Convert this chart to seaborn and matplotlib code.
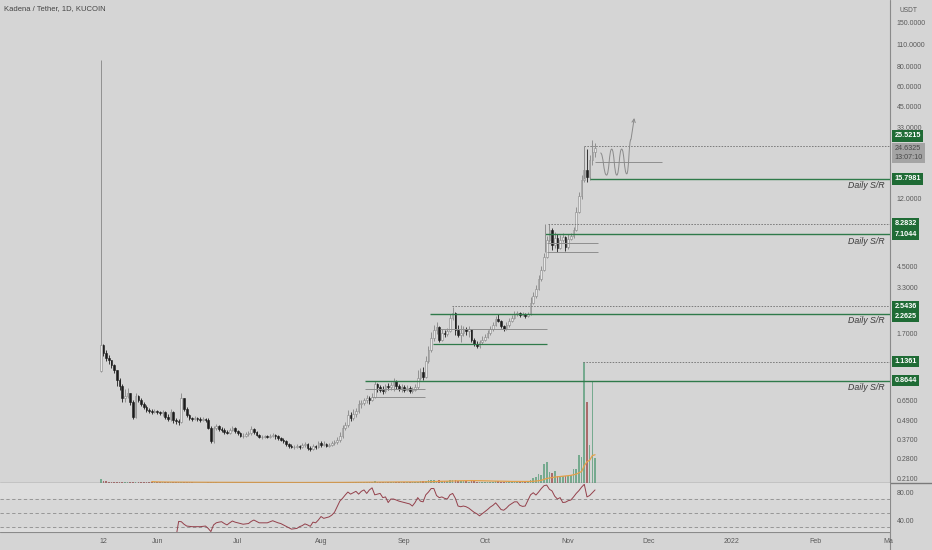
import numpy as np
import pandas as pd
import matplotlib
matplotlib.use("Agg")
import matplotlib.pyplot as plt
import seaborn as sns
from matplotlib.path import Path
from matplotlib.patches import PathPatch
from matplotlib.lines import Line2D
from matplotlib.ticker import FixedLocator, FixedFormatter, NullLocator, NullFormatter

# ---------------- data (daily candles, KDA/USDT, 11 May -> 11 Nov 2021) ----------------
first_open = 1.0
closes = [1.45, 1.29, 1.20, 1.17, 1.085, 1.01, 0.874, 0.802, 0.674, 0.694,
          0.725, 0.636, 0.513, 0.694, 0.655, 0.618, 0.592, 0.568, 0.56, 0.552,
          0.56, 0.552, 0.544, 0.552, 0.513, 0.499, 0.552, 0.491, 0.484, 0.477,
          0.674, 0.576, 0.528, 0.506, 0.499, 0.506, 0.499, 0.491, 0.499, 0.491,
          0.44, 0.363, 0.438, 0.45, 0.432, 0.426, 0.414, 0.408, 0.426, 0.438,
          0.42, 0.408, 0.39, 0.39, 0.402, 0.408, 0.432, 0.414, 0.396, 0.385,
          0.385, 0.39, 0.385, 0.39, 0.396, 0.39, 0.379, 0.368, 0.363, 0.348,
          0.338, 0.333, 0.333, 0.338, 0.333, 0.343, 0.348, 0.329, 0.324, 0.338,
          0.333, 0.353, 0.343, 0.348, 0.338, 0.343, 0.353, 0.358, 0.368, 0.39,
          0.438, 0.457, 0.528, 0.506, 0.536, 0.56, 0.618, 0.627, 0.655, 0.674,
          0.655, 0.684, 0.826, 0.791, 0.757, 0.746, 0.802, 0.791, 0.814, 0.862,
          0.802, 0.768, 0.791, 0.757, 0.779, 0.746, 0.757, 0.791, 0.90, 0.981,
          0.913, 1.14, 1.35, 1.60, 1.80, 1.87, 1.56, 1.72, 1.70, 1.77,
          2.14, 2.30, 1.80, 1.67, 1.72, 1.82, 1.77, 1.82, 1.56, 1.47,
          1.43, 1.50, 1.56, 1.63, 1.72, 1.82, 1.93, 2.10, 2.04, 1.90,
          1.82, 1.93, 2.04, 2.14, 2.26, 2.30, 2.23, 2.26, 2.20, 2.26,
          2.65, 2.93, 3.24, 3.74, 4.26, 5.15, 6.57, 7.58, 6.11, 6.76,
          5.85, 6.57, 6.85, 5.93, 6.66, 6.96, 7.58, 9.78, 12.3, 15.6,
          18.0, 16.2, 20.8, 23.3, 24.6325]
highs = [87.7, 1.47, 1.35, 1.25, 1.17, 1.10, 1.01, 0.90, 0.83, 0.768,
         0.78, 0.694, 0.655, 0.725, 0.704, 0.674, 0.636, 0.61, 0.584, 0.576,
         0.576, 0.568, 0.56, 0.568, 0.56, 0.536, 0.576, 0.56, 0.506, 0.499,
         0.725, 0.674, 0.592, 0.536, 0.513, 0.521, 0.513, 0.513, 0.513, 0.506,
         0.506, 0.45, 0.45, 0.464, 0.457, 0.444, 0.438, 0.426, 0.438, 0.45,
         0.444, 0.426, 0.414, 0.408, 0.414, 0.42, 0.45, 0.438, 0.42, 0.402,
         0.396, 0.396, 0.396, 0.402, 0.408, 0.402, 0.396, 0.385, 0.379, 0.368,
         0.353, 0.348, 0.343, 0.348, 0.343, 0.353, 0.358, 0.353, 0.338, 0.348,
         0.343, 0.363, 0.363, 0.363, 0.353, 0.353, 0.363, 0.368, 0.385, 0.414,
         0.457, 0.477, 0.568, 0.552, 0.576, 0.584, 0.655, 0.655, 0.674, 0.704,
         0.694, 0.725, 0.862, 0.838, 0.814, 0.802, 0.826, 0.838, 0.85, 0.90,
         0.874, 0.826, 0.826, 0.814, 0.814, 0.802, 0.791, 0.826, 1.01, 1.04,
         1.055, 1.23, 1.43, 1.75, 1.93, 2.01, 1.90, 1.82, 1.80, 1.85,
         2.26, 2.49, 2.33, 1.93, 1.93, 1.90, 1.87, 1.90, 1.75, 1.60,
         1.52, 1.56, 1.65, 1.70, 1.80, 1.90, 2.01, 2.20, 2.26, 2.07,
         1.93, 2.01, 2.14, 2.23, 2.37, 2.37, 2.33, 2.33, 2.30, 2.33,
         2.89, 3.11, 3.43, 3.97, 4.52, 5.45, 6.96, 8.27, 7.80, 7.37,
         7.15, 7.05, 7.26, 6.96, 7.15, 7.26, 7.93, 10.5, 13.1, 16.7,
         20.2, 24.4, 22.3, 27.7, 26.6]
lows = [0.981, 1.23, 1.14, 1.10, 1.04, 0.967, 0.802, 0.757, 0.636, 0.636,
        0.674, 0.61, 0.499, 0.506, 0.636, 0.601, 0.576, 0.552, 0.544, 0.536,
        0.544, 0.536, 0.528, 0.521, 0.499, 0.484, 0.484, 0.47, 0.464, 0.457,
        0.47, 0.56, 0.513, 0.491, 0.484, 0.491, 0.484, 0.477, 0.484, 0.477,
        0.432, 0.353, 0.353, 0.426, 0.42, 0.414, 0.402, 0.402, 0.402, 0.42,
        0.408, 0.396, 0.385, 0.379, 0.385, 0.39, 0.396, 0.402, 0.39, 0.379,
        0.374, 0.379, 0.379, 0.379, 0.385, 0.374, 0.368, 0.363, 0.353, 0.338,
        0.329, 0.329, 0.324, 0.329, 0.324, 0.329, 0.333, 0.319, 0.314, 0.319,
        0.324, 0.329, 0.333, 0.338, 0.333, 0.333, 0.338, 0.343, 0.348, 0.358,
        0.379, 0.426, 0.444, 0.484, 0.491, 0.513, 0.544, 0.584, 0.61, 0.627,
        0.618, 0.645, 0.674, 0.735, 0.735, 0.714, 0.725, 0.757, 0.757, 0.746,
        0.768, 0.746, 0.735, 0.735, 0.746, 0.725, 0.725, 0.746, 0.768, 0.874,
        0.874, 0.90, 1.12, 1.31, 1.52, 1.70, 1.50, 1.52, 1.63, 1.65,
        1.75, 2.07, 1.67, 1.63, 1.50, 1.65, 1.67, 1.63, 1.50, 1.43,
        1.39, 1.39, 1.47, 1.54, 1.60, 1.67, 1.77, 1.90, 2.01, 1.85,
        1.77, 1.80, 1.87, 2.01, 2.10, 2.20, 2.17, 2.20, 2.14, 2.17,
        2.23, 2.61, 2.85, 3.20, 3.64, 4.20, 5.08, 6.38, 5.68, 5.85,
        5.52, 5.76, 6.38, 5.60, 5.76, 6.57, 6.76, 7.47, 9.64, 11.9,
        15.2, 15.2, 15.6, 19.3, 21.7]
volumes = [0.45, 0.25, 0.2, 0.15, 0.15, 0.12, 0.12, 0.15, 0.1, 0.12,
           0.1, 0.1, 0.15, 0.12, 0.1, 0.08, 0.08, 0.08, 0.07, 0.07,
           0.07, 0.07, 0.07, 0.06, 0.08, 0.07, 0.08, 0.07, 0.06, 0.06,
           0.12, 0.08, 0.07, 0.06, 0.06, 0.05, 0.05, 0.05, 0.05, 0.05,
           0.07, 0.12, 0.1, 0.06, 0.05, 0.05, 0.05, 0.05, 0.05, 0.06,
           0.05, 0.05, 0.05, 0.05, 0.05, 0.05, 0.06, 0.05, 0.05, 0.05,
           0.04, 0.04, 0.04, 0.04, 0.05, 0.04, 0.05, 0.05, 0.05, 0.06,
           0.06, 0.05, 0.05, 0.05, 0.05, 0.05, 0.05, 0.06, 0.05, 0.06,
           0.05, 0.06, 0.05, 0.05, 0.05, 0.05, 0.06, 0.06, 0.07, 0.09,
           0.12, 0.1, 0.14, 0.1, 0.1, 0.09, 0.12, 0.1, 0.1, 0.1,
           0.09, 0.1, 0.18, 0.12, 0.1, 0.09, 0.1, 0.09, 0.1, 0.12,
           0.1, 0.09, 0.09, 0.08, 0.09, 0.08, 0.08, 0.09, 0.15, 0.2,
           0.18, 0.25, 0.3, 0.35, 0.32, 0.25, 0.3, 0.22, 0.18, 0.18,
           0.3, 0.35, 0.3, 0.22, 0.2, 0.18, 0.16, 0.15, 0.18, 0.18,
           0.15, 0.14, 0.14, 0.14, 0.13, 0.14, 0.15, 0.18, 0.16, 0.15,
           0.14, 0.14, 0.14, 0.15, 0.17, 0.15, 0.13, 0.13, 0.14, 0.13,
           0.3, 0.5, 0.6, 0.9, 0.8, 1.9, 2.1, 1.1, 1.0, 1.2,
           0.7, 0.7, 0.7, 0.7, 0.7, 0.8, 1.4, 1.4, 2.8, 2.6,
           12.1, 8.1, 3.8, 10.2, 2.5]
rsi_start = 28
rsi_values = [15, 38, 37.6, 34, 31.4, 31, 30.5, 30.5, 30.5, 30.5,
              31, 31.4, 28, 23.5, 33, 36, 37, 37.6, 35, 33,
              36, 38.6, 37, 36, 35, 34, 34.5, 35, 38, 40,
              38, 36, 36, 36, 36, 37.5, 39, 37.5, 36, 35,
              33, 31, 29, 27, 27.5, 28, 30.5, 32, 34.5, 33,
              31, 37, 36, 40, 45, 42.4, 43.5, 44.5, 47, 51,
              59, 67, 71, 75.7, 80, 77, 79, 81, 77, 81,
              83, 78, 83, 86, 76, 77, 78, 72, 73, 65,
              70, 70, 68.6, 67, 66, 65, 64, 63, 60, 65,
              72, 67, 66, 76, 80, 85, 85, 75, 72, 73,
              71, 70, 76, 78, 71, 60, 59, 60, 59, 57,
              54, 51, 49, 46, 49, 52, 55, 58.5, 61, 64.5,
              60, 55, 54, 57, 61, 63.5, 66, 66, 61, 59.5,
              60, 68, 76, 79, 75.7, 80, 85, 89, 90, 84,
              81.5, 74, 70, 72, 65, 65.5, 67.6, 68.6, 73, 78,
              82, 87, 91, 73, 75, 79, 83]

date_tick_days = [1, 21, 51, 82, 113, 143, 174, 204, 235, 266, 293.2]
date_tick_labels = ["12", "Jun", "Jul", "Aug", "Sep", "Oct", "Nov", "Dec", "2022", "Feb", "Ma"]
price_ticks = [150, 110, 80, 60, 45, 33, 12, 4.5, 3.3, 1.7, 0.65, 0.49, 0.37, 0.28, 0.21]
rsi_ticks = [80, 40]
rsi_levels = [70, 50, 30]

# drawn support / resistance levels
sr_levels = [15.7981, 7.1044, 2.2625, 0.8644]
sr_start_days = [182, 165.4, 122.6, 98.4]
ref_levels = [25.5215, 8.2832, 2.5436, 1.1361]
ref_start_days = [180, 166.5, 130.7, 179.5]
green_short_levels = [1.46]
green_short_start = [123.7]
green_short_end = [166.1]
gray_short_levels = [20.2, 6.29, 5.54, 1.82, 0.768, 0.68]
gray_short_start = [184, 166, 166, 126.3, 98.4, 101]
gray_short_end = [209, 185, 185, 166.1, 120.7, 120.7]
box_edge_days = [180, 165.4]
box_edge_low = [15.7981, 5.54]
box_edge_high = [25.5215, 8.2832]
label_shift_pts = {25.5215: 7.0, 2.2625: -2.0, 2.5436: -0.4}
sketch_days = [186.0, 188.3, 190.2, 192.1, 193.9, 195.8, 197.4]
sketch_prices = [23.0, 16.7, 24.3, 16.7, 24.3, 17.0, 28.0]
sketch_arrow_tip = (198.6, 38.0)
last_price = 24.6325
countdown = "13:07:10"
title = "Kadena / Tether, 1D, KUCOIN"

# ---------------- styling ----------------
sns.set_theme(style="white")
plt.rcParams["font.family"] = ["Liberation Sans", "DejaVu Sans"]

BG = "#d5d5d5"
TXT = "#5a5a5a"
GREEN = "#2f7a4a"
BOXGREEN = "#1f6b35"
GRAYLINE = "#7c7c7c"
W, H = 932, 550


def fx(px):
    return px / W


def fy(py):
    return 1 - py / H


fig = plt.figure(figsize=(W / 100, H / 100), dpi=100, facecolor=BG)
price_rect = [0, fy(483), fx(890), 483 / H]
rsi_rect = [0, fy(532), fx(890), 49 / H]
ax_vol = fig.add_axes(price_rect, zorder=1)
ax = fig.add_axes(price_rect, zorder=2)
ax_rsi = fig.add_axes(rsi_rect, zorder=2)

XL, XR = -37.5, 293.8
days = np.arange(len(closes))
c = np.array(closes)
o = np.array([first_open] + closes[:-1])
hi = np.maximum(np.array(highs), np.maximum(o, c))
lo = np.minimum(np.array(lows), np.minimum(o, c))
up = c >= o

# ---- volume ----
ax_vol.set_facecolor(BG)
vol_colors = np.where(up, "#76aa8f", "#aa6b6b")
ax_vol.bar(days, volumes, width=0.62, color=vol_colors, linewidth=0)
vol_ma = pd.Series(volumes).rolling(20).mean()
sns.lineplot(x=days, y=vol_ma.values, ax=ax_vol, color="#e3a04a", linewidth=0.9, legend=False)
ax_vol.set_ylim(0, 48.3)
ax_vol.set_xlim(XL, XR)
ax_vol.set_xticks([])
ax_vol.set_yticks([])
ax_vol.tick_params(bottom=False, labelbottom=False, left=False, labelleft=False)
ax_vol.set_xlabel("")
ax_vol.set_ylabel("")
for s in ax_vol.spines.values():
    s.set_visible(False)

# ---- candles ----
ax.patch.set_visible(False)
ax.set_yscale("log")
ax.set_ylim(0.198, 208)
ax.set_xlim(XL, XR)
wick_col = np.where(up, "#858585", "#1c1c1c")
ax.vlines(days, lo, hi, colors=wick_col, linewidth=0.6, zorder=3)
ax.bar(days, np.abs(c - o), bottom=np.minimum(o, c), width=0.62,
       color=np.where(up, "#e6e6e6", "#1c1c1c"),
       edgecolor=np.where(up, "#858585", "#1c1c1c"), linewidth=0.4, zorder=4)

# ---- drawings ----
for lv, st in zip(sr_levels, sr_start_days):
    ax.hlines(lv, st, XR, color=GREEN, linewidth=1.0, zorder=5)
for lv, st in zip(ref_levels, ref_start_days):
    ax.hlines(lv, st, XR, color=GRAYLINE, linewidth=0.7, linestyles=(0, (1.6, 1.4)), zorder=5)
for lv, st, en in zip(green_short_levels, green_short_start, green_short_end):
    ax.hlines(lv, st, en, color=GREEN, linewidth=0.9, zorder=5)
for lv, st, en in zip(gray_short_levels, gray_short_start, gray_short_end):
    ax.hlines(lv, st, en, color="#8e8e8e", linewidth=0.7, zorder=5)
for d, l0, h0 in zip(box_edge_days, box_edge_low, box_edge_high):
    ax.vlines(d, l0, h0, color="#8e8e8e", linewidth=0.7, zorder=5)

# projection sketch (rounded waves)
verts = [(sketch_days[0], sketch_prices[0])]
codes = [Path.MOVETO]
for (x0, y0), (x1, y1) in zip(zip(sketch_days[:-1], sketch_prices[:-1]),
                              zip(sketch_days[1:], sketch_prices[1:])):
    xm = (x0 + x1) / 2
    verts += [(xm, y0), (xm, y1), (x1, y1)]
    codes += [Path.CURVE4] * 3
ax.add_patch(PathPatch(Path(verts, codes), transform=ax.transData, fill=False,
                       edgecolor="#8a8a8a", linewidth=0.7, zorder=6))
ax.annotate("", xy=sketch_arrow_tip, xytext=(sketch_days[-1], sketch_prices[-1]),
            arrowprops=dict(arrowstyle="->", color="#8a8a8a", lw=0.7,
                            shrinkA=0, shrinkB=0, mutation_scale=6), zorder=6)

# Daily S/R labels
ytr = ax.get_yaxis_transform()
for lv in sr_levels:
    ax.annotate("Daily S/R", xy=(1.0, lv), xycoords=ytr, xytext=(-3.8, -5.0),
                textcoords="offset points", ha="right", va="center", fontsize=6.3,
                style="italic", color="#3a3a3a", annotation_clip=False, zorder=7)

# ---- price axis ----
ax.yaxis.tick_right()
ax.yaxis.set_major_locator(FixedLocator(price_ticks))
ax.yaxis.set_major_formatter(FixedFormatter([f"{t:.4f}" for t in price_ticks]))
ax.yaxis.set_minor_locator(NullLocator())
ax.yaxis.set_minor_formatter(NullFormatter())
ax.tick_params(axis="y", length=0, pad=5, labelsize=5, labelcolor=TXT)
ax.tick_params(axis="x", bottom=False, labelbottom=False)
for s in ax.spines.values():
    s.set_visible(False)

# value boxes on the axis
for lv in sr_levels + ref_levels:
    dy = label_shift_pts.get(lv, 0.0)
    ax.annotate(f"{lv:.4f}", xy=(1.0, lv), xycoords=ytr, xytext=(3.2, dy),
                textcoords="offset points", ha="left", va="center", fontsize=5.2,
                fontweight="bold", color="white", annotation_clip=False, zorder=8,
                bbox=dict(boxstyle="square,pad=0.3", fc=BOXGREEN, ec="none"))
ax.annotate(f"{last_price:.4f}\n{countdown}", xy=(1.0, last_price), xycoords=ytr,
            xytext=(3.2, 2.4), textcoords="offset points", ha="left", va="top",
            fontsize=5.2, color="#474747", linespacing=1.45, annotation_clip=False,
            zorder=8, bbox=dict(boxstyle="square,pad=0.3", fc="#a4a4a4", ec="none"))

# ---- RSI ----
ax_rsi.set_facecolor("#dddddd")
ax_rsi.axhspan(rsi_levels[2], rsi_levels[0], color="#d7d7d7", zorder=0)
for lv in rsi_levels:
    ax_rsi.axhline(lv, color="#8c8c8c", linewidth=0.6, linestyle=(0, (4, 3)), zorder=1)
rsi_days = np.arange(rsi_start, rsi_start + len(rsi_values))
sns.lineplot(x=rsi_days, y=rsi_values, ax=ax_rsi, color="#94404b", linewidth=0.7, legend=False)
ax_rsi.set_ylim(22.9, 92.9)
ax_rsi.set_xlim(XL, XR)
ax_rsi.yaxis.tick_right()
ax_rsi.set_yticks(rsi_ticks, [f"{t:.2f}" for t in rsi_ticks])
ax_rsi.tick_params(axis="y", length=0, pad=5, labelsize=5, labelcolor=TXT)
ax_rsi.set_xticks(date_tick_days, date_tick_labels)
ax_rsi.tick_params(axis="x", length=0, pad=4.3, labelsize=5, labelcolor=TXT)
ax_rsi.set_xlabel("")
ax_rsi.set_ylabel("")
for s in ax_rsi.spines.values():
    s.set_visible(False)

# ---- frame lines & header ----
fig.add_artist(Line2D([0, 1], [fy(483), fy(483)], transform=fig.transFigure, color="#7a7a7a", lw=1.0))
fig.add_artist(Line2D([0, fx(890)], [fy(532), fy(532)], transform=fig.transFigure, color="#8a8a8a", lw=0.8))
fig.add_artist(Line2D([fx(890), fx(890)], [0, 1], transform=fig.transFigure, color="#8a8a8a", lw=0.8))
fig.text(fx(4), fy(9), title, ha="left", va="center", fontsize=5.5, color="#454545")
fig.text(fx(908), fy(10.5), "USDT", ha="center", va="center", fontsize=4.8, color=TXT)

fig.savefig("out.png", dpi=100, facecolor=BG)
